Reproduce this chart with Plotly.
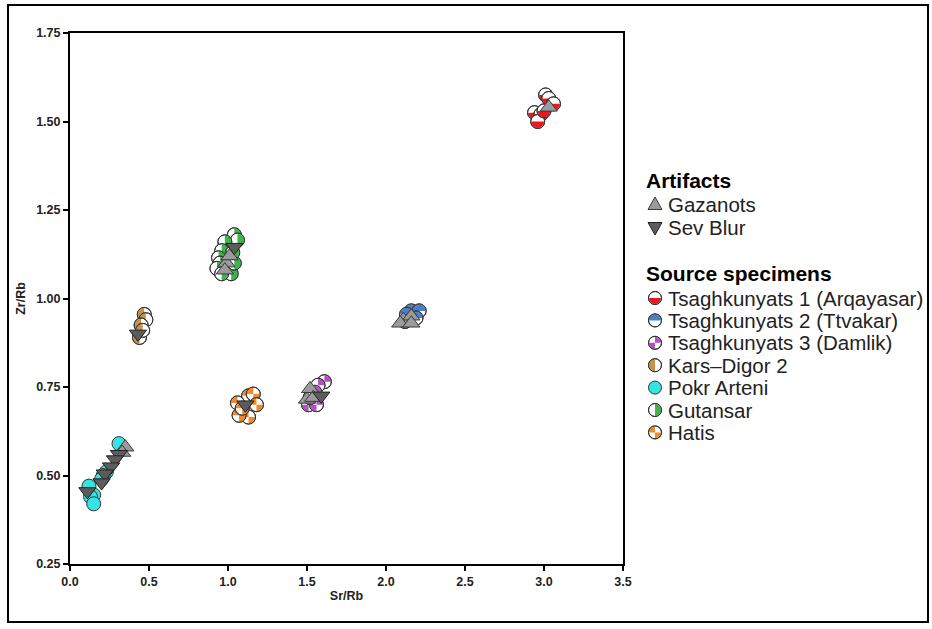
import math
import plotly.graph_objects as go

# ---------------- data ----------------
tsag1_x = [3.01, 3.03, 3.06, 2.94, 2.98, 2.96, 3.00]
tsag1_y = [1.575, 1.565, 1.55, 1.525, 1.52, 1.50, 1.53]

tsag2_x = [2.16, 2.21, 2.19, 2.13, 2.12]
tsag2_y = [0.965, 0.965, 0.945, 0.955, 0.935]

tsag3_x = [1.61, 1.57, 1.55, 1.51, 1.56, 1.52]
tsag3_y = [0.765, 0.755, 0.735, 0.70, 0.70, 0.72]

kars_x = [0.47, 0.48, 0.45, 0.44, 0.46]
kars_y = [0.955, 0.94, 0.925, 0.89, 0.91]

pokr_x = [0.31, 0.23, 0.21, 0.20, 0.12, 0.15, 0.13, 0.15]
pokr_y = [0.59, 0.51, 0.50, 0.49, 0.47, 0.445, 0.44, 0.42]

gutansar_x = [1.04, 1.06, 0.98, 0.96, 0.94, 0.95, 0.93, 1.02, 0.96, 1.04, 1.03]
gutansar_y = [1.18, 1.165, 1.16, 1.135, 1.115, 1.10, 1.085, 1.07, 1.07, 1.10, 1.13]

hatis_x = [1.13, 1.16, 1.06, 1.18, 1.13, 1.07, 1.09]
hatis_y = [0.725, 0.73, 0.705, 0.70, 0.665, 0.67, 0.69]

gazanots_x = [3.03, 2.11, 2.16, 2.09, 2.16, 1.52, 1.50, 1.54, 0.99, 0.98, 1.01, 0.35, 0.33]
gazanots_y = [1.54, 0.94, 0.95, 0.93, 0.93, 0.745, 0.715, 0.72, 1.10, 1.08, 1.12, 0.58, 0.565]

sevblur_x = [1.59, 0.43, 0.31, 0.285, 0.26, 0.22, 0.20, 0.11, 1.04, 1.11]
sevblur_y = [0.725, 0.90, 0.56, 0.545, 0.525, 0.505, 0.48, 0.455, 1.145, 0.70]

source_names = ["Tsaghkunyats 1 (Arqayasar)", "Tsaghkunyats 2 (Ttvakar)",
                "Tsaghkunyats 3 (Damlik)", "Kars\u2013Digor 2", "Pokr Arteni",
                "Gutansar", "Hatis"]
artifact_names = ["Gazanots", "Sev Blur"]

x_ticks = [0.0, 0.5, 1.0, 1.5, 2.0, 2.5, 3.0, 3.5]
y_ticks = [0.25, 0.50, 0.75, 1.00, 1.25, 1.50, 1.75]

# ---------------- styling ----------------
W, H = 932, 629
ML, MR, MT, MB = 70, 309, 33, 65
PW, PH = W - ML - MR, H - MT - MB
FONT = "Liberation Sans, Arial, Helvetica, sans-serif"
R = 7

sources = [
    (source_names[0], tsag1_x, tsag1_y, "#e8191f", "bottom"),
    (source_names[1], tsag2_x, tsag2_y, "#4a7fc4", "top"),
    (source_names[2], tsag3_x, tsag3_y, "#b54fc6", "checkA"),
    (source_names[3], kars_x, kars_y, "#c8914b", "left"),
    (source_names[4], pokr_x, pokr_y, "#35e3e3", "full"),
    (source_names[5], gutansar_x, gutansar_y, "#3cb54a", "right"),
    (source_names[6], hatis_x, hatis_y, "#f08a24", "checkB"),
]


def arc(a0, a1, r, n=12):
    return [(r * math.cos(a0 + (a1 - a0) * i / n), r * math.sin(a0 + (a1 - a0) * i / n))
            for i in range(n + 1)]


def sector_path(ranges, r):
    parts = []
    for a0, a1 in ranges:
        pts = [(0, 0)] + arc(a0, a1, r)
        parts.append("M" + " L".join(f"{px:.2f},{py:.2f}" for px, py in pts) + " Z")
    return " ".join(parts)


P = math.pi
pattern_ranges = {
    "bottom": [(P, 2 * P)],
    "top": [(0, P)],
    "left": [(P / 2, 3 * P / 2)],
    "right": [(-P / 2, P / 2)],
    "checkA": [(0, P / 2), (P, 3 * P / 2)],
    "checkB": [(P / 2, P), (3 * P / 2, 2 * P)],
}


def symbol_shapes(xa, ya, color, pattern, ref, layer, r=R):
    xr, yr = ref
    base = dict(xref=xr, yref=yr, xsizemode="pixel", ysizemode="pixel",
                xanchor=xa, yanchor=ya, layer=layer)
    out = []
    fill = color if pattern == "full" else "white"
    out.append(dict(type="circle", x0=-r, x1=r, y0=-r, y1=r, fillcolor=fill,
                    line=dict(color="#333333", width=1), **base))
    if pattern != "full":
        out.append(dict(type="path", path=sector_path(pattern_ranges[pattern], r - 0.6),
                        fillcolor=color, line=dict(width=0), **base))
        out.append(dict(type="circle", x0=-r, x1=r, y0=-r, y1=r, fillcolor="rgba(0,0,0,0)",
                        line=dict(color="#333333", width=1), **base))
    return out


shapes = []
for name, xs, ys, col, pat in sources:
    for xv, yv in zip(xs, ys):
        shapes += symbol_shapes(xv, yv, col, pat, ("x", "y"), "below")

fig = go.Figure()
fig.add_trace(go.Scatter(x=gazanots_x, y=gazanots_y, mode="markers", name=artifact_names[0],
                         marker=dict(symbol="triangle-up", size=15, color="#9b9b9b",
                                     line=dict(color="#3a3a3a", width=1)),
                         showlegend=False))
fig.add_trace(go.Scatter(x=sevblur_x, y=sevblur_y, mode="markers", name=artifact_names[1],
                         marker=dict(symbol="triangle-down", size=15, color="#5c5c5c",
                                     line=dict(color="#222222", width=1)),
                         showlegend=False))


def px2paper(px, py):
    return (px - ML) / PW, (MT + PH - py) / PH


annotations = []
# legend
LX_ICON, LX_TEXT = 655, 666
hx, hy = px2paper(644, 180)
annotations.append(dict(text="<b>Artifacts</b>", x=hx, y=hy, xref="paper", yref="paper",
                        xanchor="left", yanchor="middle", showarrow=False,
                        font=dict(family=FONT, size=21, color="black")))
tri_paths = {"up": "M-7,-5.5 L7,-5.5 L0,7 Z", "down": "M-7,5.5 L7,5.5 L0,-7 Z"}
tri_cols = [("#9b9b9b", "#3a3a3a", "up"), ("#5c5c5c", "#222222", "down")]
for i, nm in enumerate(artifact_names):
    py = 204 + i * 24
    ix, iy = px2paper(LX_ICON, py)
    tx, ty = px2paper(LX_TEXT, py)
    fc, lc, d = tri_cols[i]
    shapes.append(dict(type="path", xref="paper", yref="paper", xsizemode="pixel",
                       ysizemode="pixel", xanchor=ix, yanchor=iy, path=tri_paths[d],
                       fillcolor=fc, line=dict(color=lc, width=1), layer="above"))
    annotations.append(dict(text=nm, x=tx, y=ty, xref="paper", yref="paper",
                            xanchor="left", yanchor="middle", showarrow=False,
                            font=dict(family=FONT, size=20.5, color="#222222")))

hx, hy = px2paper(644, 273)
annotations.append(dict(text="<b>Source specimens</b>", x=hx, y=hy, xref="paper", yref="paper",
                        xanchor="left", yanchor="middle", showarrow=False,
                        font=dict(family=FONT, size=21, color="black")))
for i, (name, xs, ys, col, pat) in enumerate(sources):
    py = 298 + i * 22.4
    ix, iy = px2paper(LX_ICON, py)
    tx, ty = px2paper(LX_TEXT, py)
    shapes += symbol_shapes(ix, iy, col, pat, ("paper", "paper"), "above", r=6.5)
    annotations.append(dict(text=name, x=tx, y=ty, xref="paper", yref="paper",
                            xanchor="left", yanchor="middle", showarrow=False,
                            font=dict(family=FONT, size=20.5, color="#222222")))

# outer border
shapes.append(dict(type="rect", xref="paper", yref="paper", xsizemode="pixel", ysizemode="pixel",
                   xanchor=0, yanchor=0, x0=8 - ML, x1=928 - ML, y0=(MT + PH) - 622,
                   y1=(MT + PH) - 5, line=dict(color="black", width=2),
                   fillcolor="rgba(0,0,0,0)", layer="above"))

axis_common = dict(showline=True, linecolor="black", linewidth=2, mirror=True,
                   ticks="outside", ticklen=5, tickwidth=1.5, tickcolor="black",
                   showgrid=False, zeroline=False,
                   tickfont=dict(family=FONT, size=12.5, color="#222222", weight="bold"))

fig.update_layout(
    width=W, height=H,
    margin=dict(l=ML, r=MR, t=MT, b=MB),
    paper_bgcolor="white", plot_bgcolor="white",
    showlegend=False,
    shapes=shapes,
    annotations=annotations,
    xaxis=dict(range=[0, 3.5], tickvals=x_ticks, ticktext=[f"{v:.1f}" for v in x_ticks],
               title=dict(text="Sr/Rb", standoff=3,
                          font=dict(family=FONT, size=12.5, color="#222222", weight="bold")),
               **axis_common),
    yaxis=dict(range=[0.25, 1.75], tickvals=y_ticks, ticktext=[f"{v:.2f}" for v in y_ticks],
               title=dict(text="Zr/Rb", standoff=8,
                          font=dict(family=FONT, size=12.5, color="#222222", weight="bold")),
               **axis_common),
)

fig.write_html("out.html", config={"displayModeBar": False},
               post_script="document.body.style.margin='0';document.body.style.padding='0';")
